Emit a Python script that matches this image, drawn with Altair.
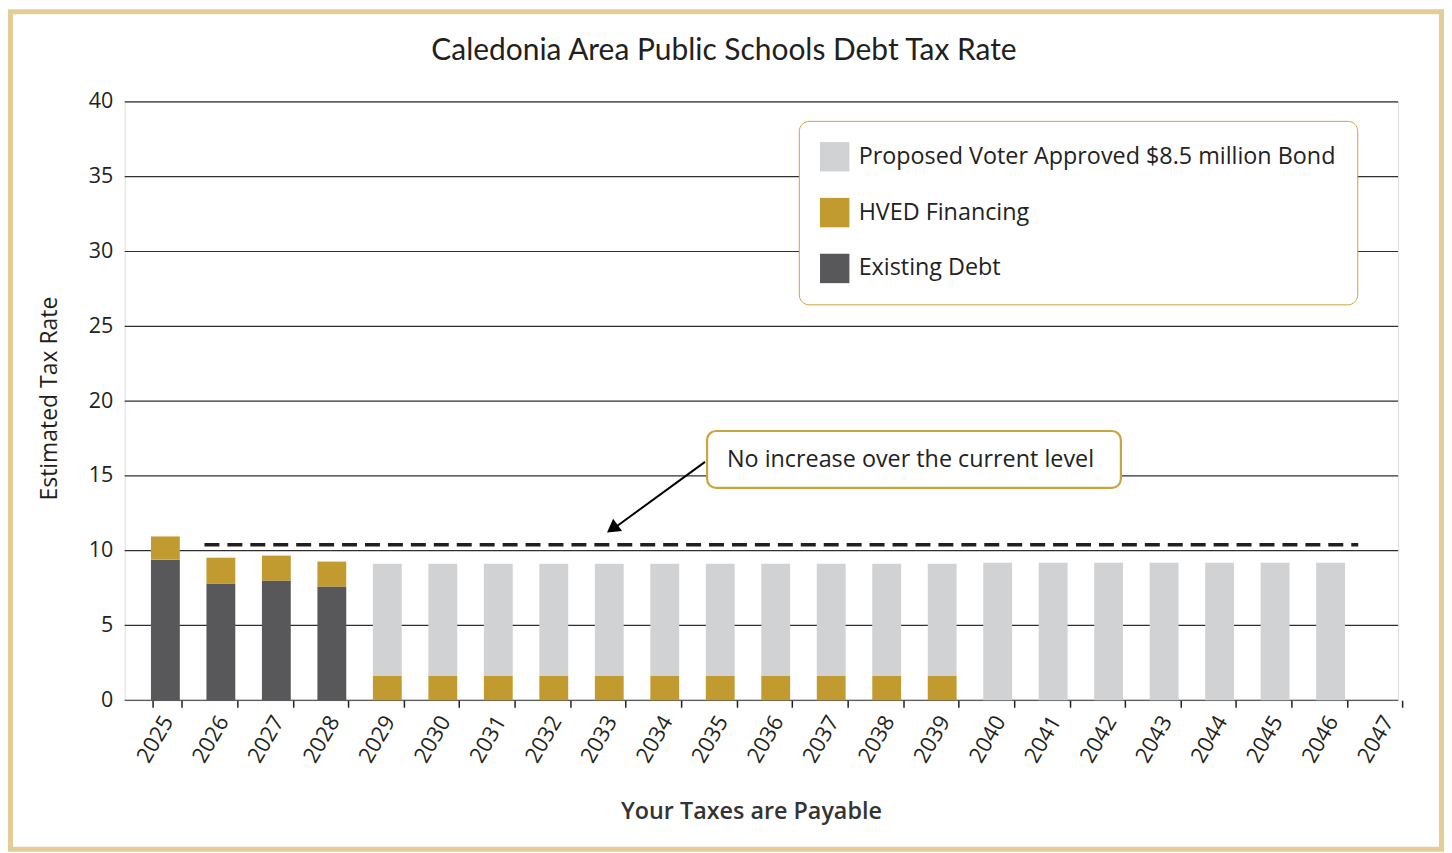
import altair as alt
import pandas as pd

# ---- data ----
years = [str(y) for y in range(2025, 2048)]
existing_debt = [9.4, 7.8, 8.0, 7.6] + [0.0] * 19
hved_financing = [1.55, 1.73, 1.67, 1.67] + [1.65] * 11 + [0.0] * 8
proposed_bond = [0.0] * 4 + [7.48] * 11 + [9.2] * 7 + [0.0]
series_names = ["Proposed Voter Approved $8.5 million Bond", "HVED Financing", "Existing Debt"]
series_colors = ["#d1d2d4", "#c29b30", "#58585a"]
current_level = 10.4
y_ticks = [0, 5, 10, 15, 20, 25, 30, 35, 40]
annotation_text = "No increase over the current level"
chart_title = "Caledonia Area Public Schools Debt Tax Rate"

rows = []
for i, yr in enumerate(years):
    rows.append({"year": yr, "series": series_names[2], "value": existing_debt[i], "order": 0})
    rows.append({"year": yr, "series": series_names[1], "value": hved_financing[i], "order": 1})
    rows.append({"year": yr, "series": series_names[0], "value": proposed_bond[i], "order": 2})
df = pd.DataFrame(rows)

W, H = 1277, 600
STEP = 55.64
X0 = 15
GOLD = "#c9a43f"
TXT = "#231f20"

y_scale = alt.Scale(domain=[0, 40], nice=False, zero=True)
y_axis = alt.Axis(
    values=y_ticks, title="Estimated Tax Rate", grid=False,
    ticks=False, domain=False, labelFont="Open Sans", labelFontSize=21.5, labelColor=TXT,
    labelPadding=12, titleFont="Open Sans", titleFontSize=23, titleFontWeight="normal",
    titleColor=TXT, titleX=-75, titleY=297, titleAlign="center", titleBaseline="middle",
)
x_scale = alt.Scale(type="band", domain=years, range=[X0, X0 + STEP * len(years)],
                    paddingInner=0.48, paddingOuter=0.24)
x_axis = alt.Axis(
    title="Your Taxes are Payable", tickBand="extent", tickSize=7, tickColor=TXT, tickWidth=1.5,
    domain=False, grid=False, labelAngle=300, labelFont="Open Sans", labelFontSize=22,
    labelColor=TXT, labelPadding=10, titleFont="Open Sans", titleFontSize=23.4, titleFontWeight=600,
    titleColor="#333333", titleX=628, titleY=112, titleAlign="center", titleBaseline="middle",
)

grid_df = pd.DataFrame({"tick": y_ticks})
grid = alt.Chart(grid_df).mark_rule(color="#2f2f2f", strokeWidth=1.2).encode(
    x=alt.value(0), x2=alt.value(W),
    y=alt.Y("tick:Q", scale=y_scale, axis=y_axis),
)

bars = alt.Chart(df).mark_bar(xOffset=-2).encode(
    x=alt.X("year:O", scale=x_scale, axis=x_axis),
    y=alt.Y("value:Q", stack="zero", scale=y_scale, axis=y_axis),
    color=alt.Color(
        "series:N",
        scale=alt.Scale(domain=series_names, range=series_colors),
        legend=alt.Legend(
            title=None, orient="none", legendX=676, legendY=19, strokeColor=GOLD,
            cornerRadius=10, fillColor="white", padding=21,
            symbolType="square", symbolSize=870, symbolStrokeWidth=0, symbolOpacity=1,
            labelFont="Open Sans", labelFontSize=23.4, labelColor="#222222", rowPadding=26,
            labelOffset=9, labelLimit=700,
        ),
    ),
    order=alt.Order("order:Q", sort="ascending"),
)

level_df = pd.DataFrame({"level": [current_level]})
dashed = alt.Chart(level_df).mark_rule(
    color=TXT, strokeWidth=3.5, strokeDash=[15, 8]
).encode(
    x=alt.value(80), x2=alt.value(1237),
    y=alt.Y("level:Q", scale=y_scale, axis=y_axis),
)

one = pd.DataFrame({"text": [annotation_text], "title": [chart_title]})
ann_box = alt.Chart(one).mark_rect(
    fill="white", stroke=GOLD, strokeWidth=2.2, cornerRadius=9
).encode(x=alt.value(584), x2=alt.value(999), y=alt.value(330), y2=alt.value(387))
ann_text = alt.Chart(one).mark_text(
    align="left", baseline="middle", font="Open Sans", fontSize=23.4, color="#222222"
).encode(x=alt.value(604), y=alt.value(359), text="text:N")
arrow_line = alt.Chart(one).mark_rule(color="black", strokeWidth=2).encode(
    x=alt.value(582), y=alt.value(361), x2=alt.value(490), y2=alt.value(428)
)
arrow_head = alt.Chart(one).mark_point(
    shape="triangle-up", filled=True, color="black", size=230, angle=233.7, opacity=1
).encode(x=alt.value(489), y=alt.value(428))

title_text = alt.Chart(one).mark_text(
    align="center", baseline="middle", font="Lato", fontSize=30, color=TXT
).encode(x=alt.value(601), y=alt.value(-51), text="title:N")

border = alt.Chart(one).mark_rect(
    fillOpacity=0, stroke="#e2ce95", strokeWidth=5
).encode(x=alt.value(-114.5), x2=alt.value(1320.5), y=alt.value(-90.5), y2=alt.value(749.5))

chart = alt.layer(grid, bars, dashed, ann_box, ann_text, arrow_line, arrow_head,
                  title_text, border).properties(
    width=W, height=H,
    padding={"left": 117, "top": 93, "right": 46, "bottom": 152},
    autosize=alt.AutoSizeParams(type="none"),
).configure_view(strokeWidth=0).configure_legend(strokeWidth=2.5).configure(background="white")

chart.save("out.html", embed_options={"renderer": "svg", "actions": False})
